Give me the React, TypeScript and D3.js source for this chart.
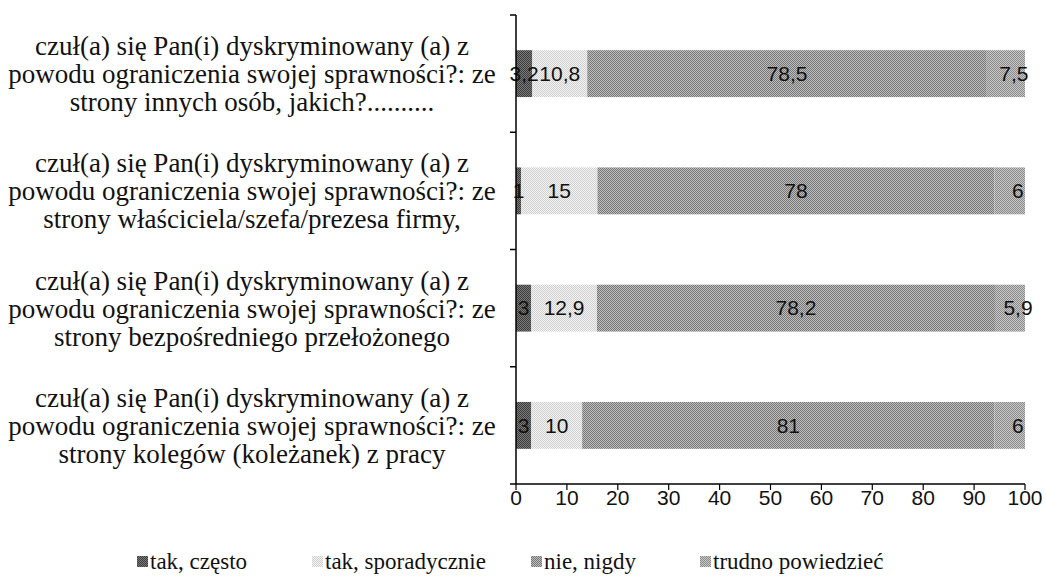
import React from "react";
import * as d3 from "d3";

const categories = [
  ["czuł(a) się Pan(i) dyskryminowany (a) z", "powodu ograniczenia swojej sprawności?:  ze", "strony innych osób, jakich?.........."],
  ["czuł(a) się Pan(i) dyskryminowany (a) z", "powodu ograniczenia swojej sprawności?: ze", "strony właściciela/szefa/prezesa firmy,"],
  ["czuł(a) się Pan(i) dyskryminowany (a) z", "powodu ograniczenia swojej sprawności?: ze", "strony bezpośredniego przełożonego"],
  ["czuł(a) się Pan(i) dyskryminowany (a) z", "powodu ograniczenia swojej sprawności?: ze", "strony kolegów (koleżanek) z pracy"],
];

const seriesNames = ["tak, często", "tak, sporadycznie", "nie, nigdy", "trudno powiedzieć"];
const takCzesto = [3.2, 1, 3, 3];
const takSporadycznie = [10.8, 15, 12.9, 10];
const nieNigdy = [78.5, 78, 78.2, 81];
const trudnoPowiedziec = [7.5, 6, 5.9, 6];
const xTicks = [0, 10, 20, 30, 40, 50, 60, 70, 80, 90, 100];

const seriesValues = [takCzesto, takSporadycznie, nieNigdy, trudnoPowiedziec];
const patternIds = ["p0", "p1", "p2", "p3"];
const patternColors: [string, string][] = [
  ["#3c3c3c", "#7a7a7a"],
  ["#cfcfcf", "#f4f4f4"],
  ["#777777", "#bdbdbd"],
  ["#8a8a8a", "#c8c8c8"],
];

const fmt = (v: number) => String(v).replace(".", ",");

export default function App() {
  const W = 1046, H = 588;
  const x = d3.scaleLinear().domain([0, 100]).range([516, 1025]);
  const y = d3.scaleBand<number>().domain(d3.range(categories.length)).range([15, 484]).paddingInner(0.6).paddingOuter(0.3);
  const band = d3.scaleBand<number>().domain(d3.range(categories.length)).range([15, 484]);
  const serif = "Liberation Serif, Times New Roman, serif";
  const sans = "Liberation Sans, Arial, sans-serif";

  const stacks = categories.map((_, i) => {
    let acc = 0;
    return seriesValues.map((s, k) => {
      const x0 = acc;
      acc += s[i];
      return { k, x0, x1: acc, v: s[i] };
    });
  });

  const legendX = [137, 312, 531, 700];

  return (
    <svg width={W} height={H} style={{ position: "absolute", left: 0, top: 0, background: "#fff" }}>
      <defs>
        {patternIds.map((id, k) => (
          <pattern key={id} id={id} width={2} height={2} patternUnits="userSpaceOnUse">
            <rect width={2} height={2} fill={patternColors[k][1]} />
            <rect width={1} height={1} fill={patternColors[k][0]} />
            <rect x={1} y={1} width={1} height={1} fill={patternColors[k][0]} />
          </pattern>
        ))}
      </defs>

      {stacks.map((row, i) =>
        row.map((seg) => (
          <rect key={`${i}-${seg.k}`} x={x(seg.x0)} y={y(i)!} width={x(seg.x1) - x(seg.x0)} height={y.bandwidth()} fill={`url(#${patternIds[seg.k]})`} />
        ))
      )}

      {stacks.map((row, i) =>
        row.map((seg) => (
          <text key={`l${i}-${seg.k}`} x={(x(seg.x0) + x(seg.x1)) / 2 + (seg.k === 3 ? 8 : 0)} y={y(i)! + y.bandwidth() / 2} dy="0.35em" textAnchor="middle" fontFamily={sans} fontSize={21} fill="#111">
            {fmt(seg.v)}
          </text>
        ))
      )}

      {/* axes */}
      <line x1={x(0)} x2={x(0)} y1={15} y2={484} stroke="#000" strokeWidth={1.5} />
      {[0, 1, 2, 3, 4].map((j) => {
        const yy = j < 4 ? band(j)! : 484;
        return <line key={`yt${j}`} x1={x(0) - 6} x2={x(0)} y1={yy} y2={yy} stroke="#000" strokeWidth={1.5} />;
      })}
      <line x1={x(0)} x2={x(100)} y1={484} y2={484} stroke="#000" strokeWidth={1.5} />
      {xTicks.map((t) => (
        <g key={`xt${t}`}>
          <line x1={x(t)} x2={x(t)} y1={484} y2={490} stroke="#000" strokeWidth={1.2} />
          <text x={x(t)} y={505} textAnchor="middle" fontFamily={sans} fontSize={21} fill="#111">{t}</text>
        </g>
      ))}

      {categories.map((lines, i) => {
        const cy = band(i)! + band.bandwidth() / 2;
        return (
          <text key={`c${i}`} fontFamily={serif} fontSize={27} fill="#111" textAnchor="middle">
            {lines.map((ln, j) => (
              <tspan key={j} x={252} y={cy + (j - 1) * 28} dy="0.35em">{ln}</tspan>
            ))}
          </text>
        );
      })}

      {seriesNames.map((n, k) => (
        <g key={`lg${k}`}>
          <rect x={legendX[k]} y={556} width={11} height={11} fill={`url(#${patternIds[k]})`} />
          <text x={legendX[k] + 13} y={569} fontFamily={serif} fontSize={23} fill="#111">{n}</text>
        </g>
      ))}
    </svg>
  );
}
